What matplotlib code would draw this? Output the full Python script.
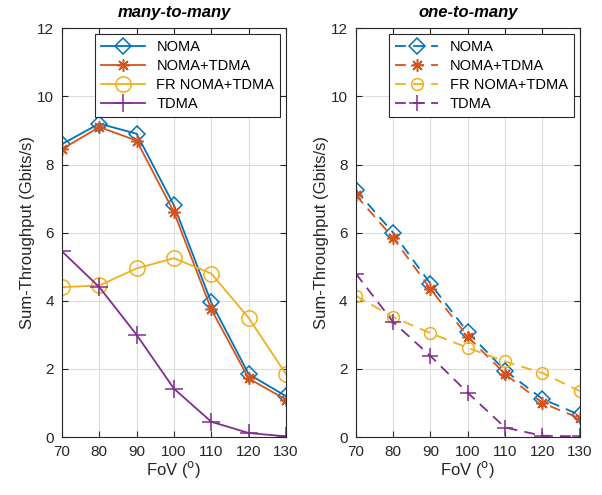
import matplotlib
matplotlib.use('Agg')
import matplotlib.pyplot as plt

plt.rcParams['font.family'] = ['Liberation Sans', 'DejaVu Sans']

fov = [70, 80, 90, 100, 110, 120, 130]
labels = ['NOMA', 'NOMA+TDMA', 'FR NOMA+TDMA', 'TDMA']

# many-to-many
m2m_noma = [8.6, 9.2, 8.9, 6.8, 3.95, 1.85, 1.2]
m2m_noma_tdma = [8.45, 9.1, 8.7, 6.6, 3.75, 1.72, 1.1]
m2m_fr = [4.4, 4.45, 4.95, 5.25, 4.8, 3.5, 1.85]
m2m_tdma = [5.45, 4.4, 3.0, 1.42, 0.45, 0.12, 0.02]

# one-to-many
o2m_noma = [7.25, 6.0, 4.5, 3.08, 1.95, 1.12, 0.65]
o2m_noma_tdma = [7.1, 5.85, 4.35, 2.95, 1.85, 1.0, 0.55]
o2m_fr = [4.15, 3.52, 3.05, 2.62, 2.22, 1.88, 1.35]
o2m_tdma = [4.8, 3.38, 2.38, 1.3, 0.28, 0.04, 0.02]

colors = ['#0072BD', '#D95319', '#EDB120', '#7E2F8E']
markers = ['D', (8, 2, 0), 'o', '+']

fig = plt.figure(figsize=(6.02, 4.95), dpi=100)
ax1 = fig.add_axes([0.103, 0.117, 0.372, 0.826])
ax2 = fig.add_axes([0.591, 0.117, 0.372, 0.826])

panels = [
    (ax1, [m2m_noma, m2m_noma_tdma, m2m_fr, m2m_tdma], '-', 'many-to-many', [8.5, 9, 11, 13]),
    (ax2, [o2m_noma, o2m_noma_tdma, o2m_fr, o2m_tdma], '--', 'one-to-many', [8.5, 9, 8.5, 12]),
]

for ax, series, ls, title, msizes in panels:
    for vals, c, m, ms, lab in zip(series, colors, markers, msizes, labels):
        kw = dict(color=c, marker=m, markersize=ms,
                  markerfacecolor='none', markeredgecolor=c,
                  markeredgewidth=1.1, linewidth=1.3, label=lab)
        if ls == '--':
            kw['linestyle'] = (0, (6, 4))
        else:
            kw['linestyle'] = '-'
        ax.plot(fov, vals, **kw)
    ax.set_xlim(70, 130)
    ax.set_ylim(0, 12)
    ax.set_xticks(fov)
    ax.set_yticks(range(0, 13, 2))
    ax.grid(True, color='#dcdcdc', linewidth=0.8)
    ax.set_axisbelow(True)
    ax.tick_params(direction='in', labelsize=11, top=True, right=True,
                   length=4, colors='#262626', pad=6)
    for s in ax.spines.values():
        s.set_color('#262626')
        s.set_linewidth(0.8)
    ax.set_xlabel('FoV ($^{\\mathrm{o}}$)', fontsize=12, color='#262626', labelpad=0)
    ax.set_ylabel('Sum-Throughput (Gbits/s)', fontsize=12, color='#262626', labelpad=1)
    ax.set_title(title, fontsize=12, fontweight='bold', style='italic', pad=8)
    leg = ax.legend(loc='upper right', fontsize=10.5, fancybox=False,
                    framealpha=1, edgecolor='#262626', handlelength=3,
                    borderaxespad=0.4, labelspacing=0.35)
    leg.get_frame().set_linewidth(0.8)

fig.savefig('out.png', dpi=100)
